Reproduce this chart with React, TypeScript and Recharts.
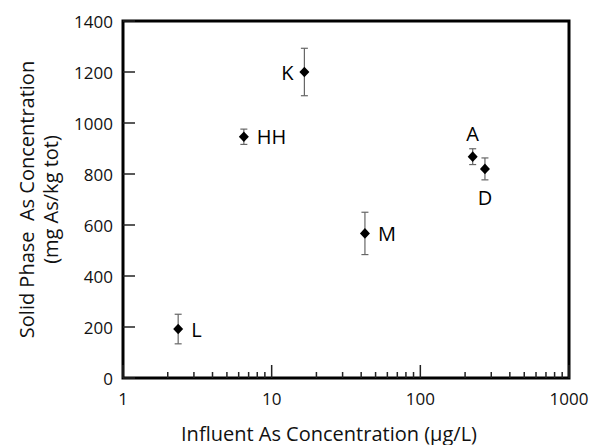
import { ScatterChart, Scatter, XAxis, YAxis, ErrorBar, ReferenceArea } from "recharts";

// sampling sites
const sites = ["L", "HH", "K", "M", "A", "D"];
const influentAs = [2.35, 6.5, 16.6, 42.4, 225, 272]; // µg/L
const solidAs = [192, 946, 1200, 567, 868, 820]; // mg As/kg tot
const solidErr = [58, 30, 93, 83, 31, 43];
const labelSide = ["right", "right", "left", "right", "top", "bottom"];

const xMajorTicks = [1, 10, 100, 1000];
const xAllTicks = [
  1, 2, 3, 4, 5, 6, 7, 8, 9,
  10, 20, 30, 40, 50, 60, 70, 80, 90,
  100, 200, 300, 400, 500, 600, 700, 800, 900,
  1000,
];
const yTicks = [0, 200, 400, 600, 800, 1000, 1200, 1400];

const FONT = "'Open Sans', sans-serif";

const data = sites.map((site, i) => ({
  site,
  x: influentAs[i],
  y: solidAs[i],
  err: solidErr[i],
  side: labelSide[i],
}));

function XTick(props: any) {
  const { x, y, payload } = props;
  const major = xMajorTicks.includes(payload.value);
  return (
    <g>
      <line x1={x} x2={x} y1={y} y2={y - (major ? 13 : 6)} stroke="#222" strokeWidth={1.5} />
      {major && (
        <text x={x} y={y + 20} textAnchor="middle" dominantBaseline="central"
          fontFamily={FONT} fontSize={17} fill="#111">
          {payload.value}
        </text>
      )}
    </g>
  );
}

function YTick(props: any) {
  const { x, y, payload } = props;
  return (
    <g>
      <line x1={x} x2={x + 12} y1={y} y2={y} stroke="#222" strokeWidth={1.5} />
      <text x={x - 10} y={y} textAnchor="end" dominantBaseline="central"
        fontFamily={FONT} fontSize={17} fill="#111">
        {payload.value}
      </text>
    </g>
  );
}

function Marker(props: any) {
  const { cx, cy, payload } = props;
  let tx = cx + 13;
  let ty = cy;
  let anchor = "start";
  if (payload.side === "left") {
    tx = cx - 11;
    anchor = "end";
  } else if (payload.side === "top") {
    tx = cx;
    ty = cy - 23;
    anchor = "middle";
  } else if (payload.side === "bottom") {
    tx = cx;
    ty = cy + 29;
    anchor = "middle";
  }
  return (
    <g>
      <path d={`M${cx},${cy - 5.3} L${cx + 5},${cy} L${cx},${cy + 5.3} L${cx - 5},${cy} Z`} fill="#000" />
      <text x={tx} y={ty} textAnchor={anchor} dominantBaseline="central"
        fontFamily={FONT} fontSize={20} fill="#000">
        {payload.site}
      </text>
    </g>
  );
}

function XTitle(props: any) {
  const { viewBox } = props;
  return (
    <text x={viewBox.x + viewBox.width / 2 - 17} y={viewBox.y + 55} textAnchor="middle"
      dominantBaseline="central" fontFamily={FONT} fontSize={20} fill="#111">
      Influent As Concentration (µg/L)
    </text>
  );
}

function YTitle(props: any) {
  const { viewBox } = props;
  const cy = viewBox.y + viewBox.height / 2;
  return (
    <g transform={`translate(${viewBox.x + 23}, ${cy}) rotate(-90)`}>
      <text x={0} y={0} textAnchor="middle" dominantBaseline="central"
        fontFamily={FONT} fontSize={20} fill="#111" style={{ whiteSpace: "pre" }}>
        {"Solid Phase  As Concentration"}
      </text>
      <text x={0} y={24} textAnchor="middle" dominantBaseline="central"
        fontFamily={FONT} fontSize={20} fill="#111">
        (mg As/kg tot)
      </text>
    </g>
  );
}

export default function App() {
  return (
    <div style={{ position: "absolute", left: 0, top: 0, width: 593, height: 445, background: "#fff" }}>
      <ScatterChart width={593} height={445} margin={{ top: 21, right: 24, bottom: 27, left: 3 }}>
        <XAxis
          type="number"
          dataKey="x"
          scale="log"
          domain={[1, 1000]}
          allowDataOverflow
          ticks={xAllTicks}
          interval={0}
          height={40}
          tickSize={0}
          tickMargin={0}
          axisLine={false}
          tickLine={false}
          tick={<XTick />}
          label={<XTitle />}
        />
        <YAxis
          type="number"
          dataKey="y"
          domain={[0, 1400]}
          ticks={yTicks}
          interval={0}
          width={120}
          tickSize={0}
          tickMargin={0}
          axisLine={false}
          tickLine={false}
          tick={<YTick />}
          label={<YTitle />}
        />
        <ReferenceArea x1={1} x2={1000} y1={0} y2={1400} fill="none" stroke="#000" strokeWidth={3} />
        <Scatter data={data} shape={<Marker />} isAnimationActive={false}>
          <ErrorBar dataKey="err" direction="y" width={3.5} stroke="#666" strokeWidth={1.2} />
        </Scatter>
      </ScatterChart>
    </div>
  );
}
